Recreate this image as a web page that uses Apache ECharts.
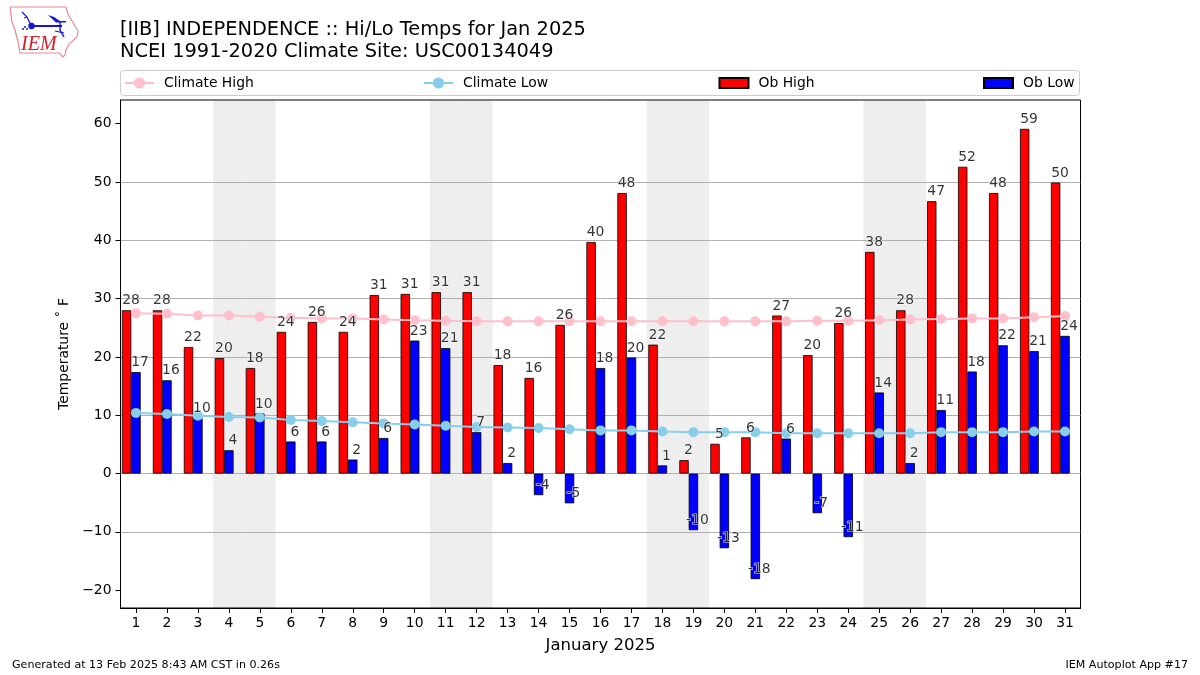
<!DOCTYPE html>
<html>
<head>
<meta charset="utf-8">
<style>html,body{margin:0;padding:0;background:#fff}#c{width:1200px;height:675px}</style>
<script src="https://cdn.jsdelivr.net/npm/echarts@6/dist/echarts.min.js"></script>
</head>
<body>
<div id="c"></div>
<script>
const days = ['1','2','3','4','5','6','7','8','9','10','11','12','13','14','15','16','17','18','19','20','21','22','23','24','25','26','27','28','29','30','31'];
const obHigh = [28.0,28.0,21.7,19.8,18.1,24.3,26.0,24.3,30.6,30.8,31.1,31.1,18.6,16.4,25.5,39.7,48.1,22.1,2.3,5.1,6.2,27.1,20.3,25.8,38.0,28.0,46.7,52.6,48.1,59.1,49.9];
const obLow = [17.4,16.0,9.5,4.0,10.3,5.5,5.5,2.4,6.1,22.8,21.5,7.1,1.8,-3.7,-5.1,18.1,19.9,1.4,-9.7,-12.8,-18.1,6.0,-6.8,-10.9,13.9,1.8,10.9,17.5,22.0,21.0,23.6];
const highLabels = [28,28,22,20,18,24,26,24,31,31,31,31,18,16,26,40,48,22,2,5,6,27,20,26,38,28,47,52,48,59,50];
const lowLabels = [17,16,10,4,10,6,6,2,6,23,21,7,2,-4,-5,18,20,1,-10,-13,-18,6,-7,-11,14,2,11,18,22,21,24];
const climateHigh = [27.5,27.4,27.1,27.1,26.9,26.7,26.6,26.6,26.4,26.3,26.2,26.1,26.1,26.1,26.1,26.1,26.1,26.1,26.1,26.1,26.1,26.1,26.2,26.2,26.3,26.4,26.5,26.6,26.6,26.8,27.0];
const climateLow = [10.4,10.2,9.9,9.7,9.6,9.2,9.0,8.8,8.6,8.4,8.2,8.0,7.9,7.8,7.6,7.4,7.4,7.2,7.1,7.1,7.1,6.9,6.9,6.9,6.9,6.9,7.1,7.1,7.1,7.2,7.2];
const weekend = [null,null,null,1,1,null,null,null,null,null,1,1,null,null,null,null,null,1,1,null,null,null,null,null,1,1,null,null,null,null,null];
const yTicks = [-20,-10,0,10,20,30,40,50,60];

const FONT = '"DejaVu Sans"';
const chart = echarts.init(document.getElementById('c'), null, {renderer:'canvas'});
const legendBase = name => ({
  show:true, orient:'horizontal', top:76, data:[name], itemWidth:29, itemHeight:14, padding:0,
  textStyle:{fontFamily:FONT, fontSize:13.9, color:'#000', padding:[0,0,0,5]}
});
const labelSeries = (name, vals, labels, dx) => ({
  name, type:'scatter', symbolSize:0, silent:true, z:20, xAxisIndex:0, yAxisIndex:0,
  data: vals.map((v,i)=>({value:[i,v], lab:labels[i]})),
  label:{show:true, position:'top', distance:2.5, offset:[dx,0], fontFamily:FONT, fontSize:13.9, color:'#000',
    textBorderColor:'#fff', textBorderWidth:1.2,
    formatter:p=>String(p.data.lab)}
});
chart.setOption({
  animation:false,
  backgroundColor:'#fff',
  title:{left:115, top:14.5, text:'[IIB] INDEPENDENCE :: Hi/Lo Temps for Jan 2025\nNCEI 1991-2020 Climate Site: USC00134049',
    textStyle:{fontFamily:FONT, fontSize:19.4, fontWeight:'normal', color:'#000', lineHeight:21.5}},
  grid:{left:120.5, top:100, width:960, height:508, show:true, borderColor:'#000', borderWidth:1, backgroundColor:'transparent', containLabel:false},
  legend:[
    Object.assign(legendBase('Climate High'),{left:124}),
    Object.assign(legendBase('Climate Low'),{left:423}),
    Object.assign(legendBase('Ob High'),{left:718.5, top:76, itemHeight:10, icon:'rect'}),
    Object.assign(legendBase('Ob Low'),{left:983, top:76, itemHeight:10, icon:'rect'})
  ],
  xAxis:[
    {type:'category', data:days, boundaryGap:true, name:'January 2025', nameLocation:'middle', nameGap:29,
     nameTextStyle:{fontFamily:FONT, fontSize:16.5, color:'#000'},
     axisLine:{show:true, onZero:false, lineStyle:{color:'#000', width:1}},
     axisTick:{show:true, alignWithLabel:true, length:5, lineStyle:{color:'#000'}},
     axisLabel:{interval:0, margin:8, fontFamily:FONT, fontSize:13.9, color:'#000'},
     splitLine:{show:false}},
    {type:'category', data:days, show:false, boundaryGap:true}
  ],
  yAxis:[
    {type:'value', min:-23.05, max:64.05, splitNumber:9, name:'Temperature ˚ F', nameLocation:'middle', nameGap:48, nameRotate:90,
     nameTextStyle:{fontFamily:FONT, fontSize:13.9, color:'#000'},
     axisLine:{show:true, lineStyle:{color:'#000', width:1}},
     axisTick:{show:true, length:5, customValues:yTicks, lineStyle:{color:'#000'}},
     axisLabel:{margin:9, padding:[4,0,0,0], fontFamily:FONT, fontSize:13.9, color:'#000', customValues:yTicks,
       formatter:v=>String(v).replace('-','\u2212')},
     splitLine:{show:true, showMinLine:false, showMaxLine:false, lineStyle:{color:'#b0b0b0', width:1}}},
    {type:'value', min:0, max:1, show:false, splitLine:{show:false}}
  ],
  series:[
    {name:'Weekend', type:'bar', xAxisIndex:1, yAxisIndex:1, data:weekend, barWidth:'102%', silent:true, z:-1,
     itemStyle:{color:'#eeeeee', borderWidth:0}},
    {name:'Ob High', type:'bar', data:obHigh, barWidth:9.4, barGap:'0%', z:3,
     itemStyle:{color:'#ff0000', borderColor:'#000', borderWidth:0.8}},
    {name:'Ob Low', type:'bar', data:obLow, barWidth:9.4, barGap:'0%', z:3,
     itemStyle:{color:'#0000ff', borderColor:'#000', borderWidth:0.8}},
    {name:'Spacer', type:'bar', data:[], barWidth:9.4, barGap:'0%', z:3},
    {name:'Climate High', type:'line', data:climateHigh, symbol:'circle', symbolSize:10, showSymbol:true, z:10,
     lineStyle:{color:'#ffc0cb', width:2}, itemStyle:{color:'#ffc0cb'}},
    {name:'Climate Low', type:'line', data:climateLow, symbol:'circle', symbolSize:10, showSymbol:true, z:10,
     lineStyle:{color:'#87ceeb', width:2}, itemStyle:{color:'#87ceeb'}},
    labelSeries('High Labels', obHigh, highLabels, -5),
    labelSeries('Low Labels', obLow, lowLabels, 4)
  ],
  graphic:[
    {type:'rect', z:-2, shape:{x:120.5,y:70.5,width:959,height:25,r:3}, style:{fill:'#fff', stroke:'#cccccc', lineWidth:1}},
    {type:'text', left:12, top:660, style:{text:'Generated at 13 Feb 2025 8:43 AM CST in 0.26s', font:'11.1px "DejaVu Sans"', fill:'#000'}},
    {type:'text', right:12, top:660, style:{text:'IEM Autoplot App #17', font:'11.1px "DejaVu Sans"', fill:'#000'}},
    {type:'polyline', z:5, shape:{points:[[10,7],[66,7],[68,14],[72,21],[78,31],[77,37],[69,44],[66,50],[65,55],[63,57],[59,53],[20,53],[18,42],[15,30],[12,22],[10,7]]},
      style:{fill:'none', stroke:'#e58a94', lineWidth:1.2}},
    {type:'line', z:5, shape:{x1:31,y1:26,x2:62,y2:26}, style:{stroke:'#1414d2', lineWidth:2}},
    {type:'circle', z:5, shape:{cx:31.5,cy:26,r:3.2}, style:{fill:'#1414d2'}},
    {type:'polyline', z:5, shape:{points:[[31,25],[27,17],[22,12]]}, style:{fill:'none', stroke:'#1414d2', lineWidth:1.2}},
    {type:'polyline', z:5, shape:{points:[[27,17],[24,18]]}, style:{fill:'none', stroke:'#1414d2', lineWidth:1}},
    {type:'polygon', z:5, shape:{points:[[48,15],[54,17],[60,21],[66,21],[66,22.5],[56,22.5]]}, style:{fill:'#1414d2'}},
    {type:'polyline', z:5, shape:{points:[[60,22],[60,30],[64,37]]}, style:{fill:'none', stroke:'#1414d2', lineWidth:1.4}},
    {type:'polyline', z:5, shape:{points:[[55,31],[64,33]]}, style:{fill:'none', stroke:'#1414d2', lineWidth:1.2}},
    {type:'circle', z:5, shape:{cx:25,cy:27,r:1}, style:{fill:'#1414d2'}},
    {type:'circle', z:5, shape:{cx:23,cy:29,r:1}, style:{fill:'#1414d2'}},
    {type:'circle', z:5, shape:{cx:27,cy:29,r:1}, style:{fill:'#1414d2'}},
    {type:'text', z:5, left:21, top:35, style:{text:'IEM', font:'italic 20px "Liberation Serif"', fill:'#d0202c'}}
  ]
});
</script>
</body>
</html>
